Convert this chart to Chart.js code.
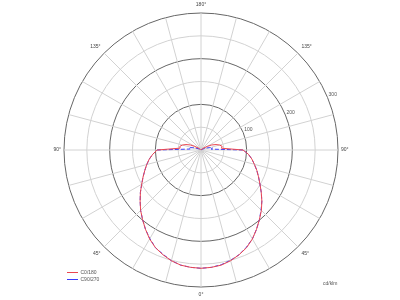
<!DOCTYPE html>
<html>
<head>
<meta charset="utf-8">
<script src="https://cdn.jsdelivr.net/npm/chart.js@4"></script>
<style>
  body { margin: 0; background: #fff; }
</style>
</head>
<body>
<canvas id="ldc" width="400" height="300"></canvas>
<script>
// Lichtstärkeverteilung (cd/klm), Gamma 0..180 in 5°-Schritten

var gammas = [0, 5, 10, 15, 20, 25, 30, 35, 40, 45, 50, 55, 60, 65, 70, 75, 80, 85, 90,
              95, 100, 105, 110, 115, 120, 125, 130, 135, 140, 145, 150, 155, 160, 165, 170, 175, 180];

var c0   = [259, 258, 256, 251, 244, 236, 225, 212, 199, 187, 174, 161, 149, 139, 130, 121, 113, 104, 92,
            45, 47, 42, 35, 26, 16, 8, 4, 2, 2, 1, 1, 1, 1, 1, 1, 1, 1];
var c180 = [259, 258, 256, 251, 244, 236, 225, 212, 199, 187, 174, 162, 150, 140, 131, 123, 115, 106, 96,
            46, 47, 42, 35, 26, 16, 8, 4, 2, 2, 1, 1, 1, 1, 1, 1, 1, 1];
var c90  = [259, 258, 255, 250, 244, 235, 225, 212, 199, 186, 174, 161, 149, 139, 130, 121, 113, 104, 92,
            22, 26, 20, 13, 7, 3, 2, 1, 1, 1, 1, 1, 1, 1, 1, 1, 1, 1];
var c270 = [259, 258, 256, 251, 243, 236, 224, 212, 199, 187, 174, 162, 150, 140, 131, 123, 115, 106, 96,
            24, 27, 20, 13, 7, 3, 2, 1, 1, 1, 1, 1, 1, 1, 1, 1, 1, 1];

var tickValues = [100, 200, 300];
var unitLabel = 'cd/klm';
var seriesNames = ['C0/180', 'C90/270'];

// rechte Hälfte: 180° oben -> 0° unten, linke Hälfte: 0° unten -> 180° oben
function around(right, left) {
    return right.slice().reverse().concat(left.slice(1, left.length - 1));
}

var angleLabels = around(gammas, gammas).map(g => g + '°');

var FONT = '"Liberation Sans", Arial, sans-serif';

var extraText = {
    id: 'extraText',
    afterLayout(chart) {
        // Legende unten links in der Zeichenfläche
        chart.legend.left = 65;
        chart.legend.top = 268;
    },
    afterDraw(chart) {
        var r = chart.scales.r;
        var ctx = chart.ctx;
        ctx.save();
        ctx.font = '5px ' + FONT;
        ctx.fillStyle = '#555';
        ctx.textAlign = 'left';
        ctx.textBaseline = 'bottom';
        tickValues.forEach(v => {
            var p = r.getPointPosition(13.5, r.getDistanceFromCenterForValue(v));
            ctx.fillText(String(v), p.x + 1, p.y);
        });
        ctx.textBaseline = 'middle';
        ctx.fillText(unitLabel, r.xCenter + 122, r.yCenter + 134);
        ctx.restore();
    }
};

new Chart(document.getElementById('ldc').getContext('2d'), {
    type: 'radar',
    data: {
        labels: angleLabels,
        datasets: [{
            label: seriesNames[0],
            data: around(c0, c180),
            borderColor: 'rgb(235, 70, 80)',
            backgroundColor: 'rgba(0,0,0,0)',
            borderWidth: 1,
            pointRadius: 0,
            fill: false,
            tension: 0,
        }, {
            label: seriesNames[1],
            data: around(c90, c270),
            borderColor: 'rgb(60, 60, 250)',
            backgroundColor: 'rgba(0,0,0,0)',
            borderWidth: 1,
            borderDash: [4, 2],
            pointRadius: 0,
            fill: false,
            tension: 0,
        }],
    },
    options: {
        responsive: false,
        animation: false,
        devicePixelRatio: 1,
        layout: { padding: { left: 2, right: 0, top: 2, bottom: 2 } },
        plugins: {
            tooltip: { enabled: false },
            legend: {
                position: 'chartArea',
                align: 'start',
                labels: {
                    usePointStyle: true,
                    pointStyle: 'line',
                    pointStyleWidth: 11,
                    padding: 2,
                    color: '#555',
                    font: { size: 5, family: FONT },
                },
            },
        },
        scales: {
            r: {
                min: 0,
                max: 300,
                startAngle: 0,
                ticks: { stepSize: 50, display: false },
                grid: {
                    circular: true,
                    color: c => (c.tick && c.tick.value % 100 === 0) ? '#666' : '#d2d2d2',
                    lineWidth: 1,
                },
                angleLines: {
                    color: c => c.index % 3 === 0 ? '#d2d2d2' : 'rgba(0,0,0,0)',
                    lineWidth: 1,
                },
                pointLabels: {
                    callback: (label, index) => index % 9 === 0 ? label : '',
                    padding: c => (c.index === 18 || c.index === 54) ? 3 : 5,
                    color: '#444',
                    font: { size: 5, family: FONT },
                },
            },
        },
    },
    plugins: [extraText],
});
</script>
</body>
</html>
